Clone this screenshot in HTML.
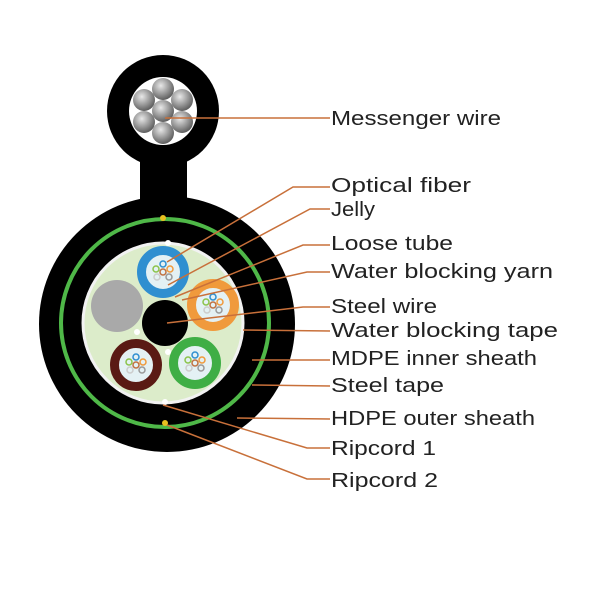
<!DOCTYPE html>
<html><head><style>body{margin:0;background:#fff}svg{display:block}</style></head>
<body>
<svg width="600" height="600" viewBox="0 0 600 600" xmlns="http://www.w3.org/2000/svg">
<defs>
<radialGradient id="st" cx="0.4" cy="0.35" r="0.7"><stop offset="0" stop-color="#e8e8e8"/><stop offset="0.6" stop-color="#909090"/><stop offset="1" stop-color="#555"/></radialGradient>
</defs>
<!-- messenger -->
<circle cx="163" cy="111" r="56" fill="#000"/>
<rect x="140" y="150" width="47" height="60" fill="#000"/>
<circle cx="163" cy="111" r="34" fill="#fff"/>
<g fill="url(#st)">
<circle cx="163" cy="89" r="11"/><circle cx="182" cy="100" r="11"/><circle cx="182" cy="122" r="11"/>
<circle cx="163" cy="133" r="11"/><circle cx="144" cy="122" r="11"/><circle cx="144" cy="100" r="11"/>
<circle cx="163" cy="111" r="11"/>
</g>
<!-- main -->
<circle cx="167" cy="324" r="128" fill="#000"/>
<circle cx="165" cy="323" r="104" fill="none" stroke="#4fb848" stroke-width="4"/>
<circle cx="163" cy="323" r="80" fill="#dcecca" stroke="#f2f2f2" stroke-width="3"/>
<circle cx="117" cy="306" r="26" fill="#a9a9a9"/>
<circle cx="165" cy="323" r="23" fill="#000"/>
<g stroke-width="9" fill="#e4f1f4">
<circle cx="163" cy="272" r="21.5" stroke="#2f8fd0"/>
<circle cx="213" cy="305" r="21.5" stroke="#f09a3c"/>
<circle cx="195" cy="363" r="21.5" stroke="#3fae45"/>
<circle cx="136" cy="365" r="21.5" stroke="#5a1a14"/>
</g>
<g fill="none" stroke-width="1.5">
<g transform="translate(163,272)"><circle cx="0" cy="-8" r="3" stroke="#2f8fd0"/><circle cx="-7" cy="-3" r="3" stroke="#8bc34a"/><circle cx="7" cy="-3" r="3" stroke="#f09a3c"/><circle cx="0" cy="0" r="3" stroke="#c0703f"/><circle cx="-6" cy="5" r="3" stroke="#ccc"/><circle cx="6" cy="5" r="3" stroke="#999"/></g>
<g transform="translate(213,305)"><circle cx="0" cy="-8" r="3" stroke="#2f8fd0"/><circle cx="-7" cy="-3" r="3" stroke="#8bc34a"/><circle cx="7" cy="-3" r="3" stroke="#f09a3c"/><circle cx="0" cy="0" r="3" stroke="#c0703f"/><circle cx="-6" cy="5" r="3" stroke="#ccc"/><circle cx="6" cy="5" r="3" stroke="#999"/></g>
<g transform="translate(195,363)"><circle cx="0" cy="-8" r="3" stroke="#2f8fd0"/><circle cx="-7" cy="-3" r="3" stroke="#8bc34a"/><circle cx="7" cy="-3" r="3" stroke="#f09a3c"/><circle cx="0" cy="0" r="3" stroke="#c0703f"/><circle cx="-6" cy="5" r="3" stroke="#ccc"/><circle cx="6" cy="5" r="3" stroke="#999"/></g>
<g transform="translate(136,365)"><circle cx="0" cy="-8" r="3" stroke="#2f8fd0"/><circle cx="-7" cy="-3" r="3" stroke="#8bc34a"/><circle cx="7" cy="-3" r="3" stroke="#f09a3c"/><circle cx="0" cy="0" r="3" stroke="#c0703f"/><circle cx="-6" cy="5" r="3" stroke="#ccc"/><circle cx="6" cy="5" r="3" stroke="#999"/></g>
</g>
<g fill="#fff"><circle cx="168" cy="243" r="3"/><circle cx="137" cy="332" r="3"/><circle cx="168" cy="352" r="3"/><circle cx="165" cy="402" r="3"/></g>
<g fill="#e8c020"><circle cx="163" cy="218" r="3"/><circle cx="165" cy="423" r="3"/></g>
<!-- leaders -->
<g fill="none" stroke="#c8703a" stroke-width="1.5">
<polyline points="165,118 330,118"/>
<polyline points="167,262 293,187 330,187"/>
<polyline points="168,285 310,209 330,209"/>
<polyline points="175,297 303,245 330,245"/>
<polyline points="182,300 307,272 330,272"/>
<polyline points="167,323 303,307 330,307"/>
<polyline points="243,330 330,331"/>
<polyline points="252,360 330,360"/>
<polyline points="252,385 330,386"/>
<polyline points="237,418 330,419"/>
<polyline points="163,405 307,448 330,448"/>
<polyline points="167,425 307,479 330,479"/>
</g>
<g font-family="Liberation Sans, sans-serif" font-size="20" fill="#222" dominant-baseline="central">
<text x="331" y="119" textLength="170" lengthAdjust="spacingAndGlyphs">Messenger wire</text>
<text x="331" y="186" textLength="140" lengthAdjust="spacingAndGlyphs">Optical fiber</text>
<text x="331" y="210" textLength="44" lengthAdjust="spacingAndGlyphs">Jelly</text>
<text x="331" y="244" textLength="122" lengthAdjust="spacingAndGlyphs">Loose tube</text>
<text x="331" y="272" textLength="222" lengthAdjust="spacingAndGlyphs">Water blocking yarn</text>
<text x="331" y="307" textLength="106" lengthAdjust="spacingAndGlyphs">Steel wire</text>
<text x="331" y="331" textLength="227" lengthAdjust="spacingAndGlyphs">Water blocking tape</text>
<text x="331" y="359" textLength="206" lengthAdjust="spacingAndGlyphs">MDPE inner sheath</text>
<text x="331" y="386" textLength="113" lengthAdjust="spacingAndGlyphs">Steel tape</text>
<text x="331" y="419" textLength="204" lengthAdjust="spacingAndGlyphs">HDPE outer sheath</text>
<text x="331" y="449" textLength="105" lengthAdjust="spacingAndGlyphs">Ripcord 1</text>
<text x="331" y="481" textLength="107" lengthAdjust="spacingAndGlyphs">Ripcord 2</text>
</g>
</svg>
</body></html>
